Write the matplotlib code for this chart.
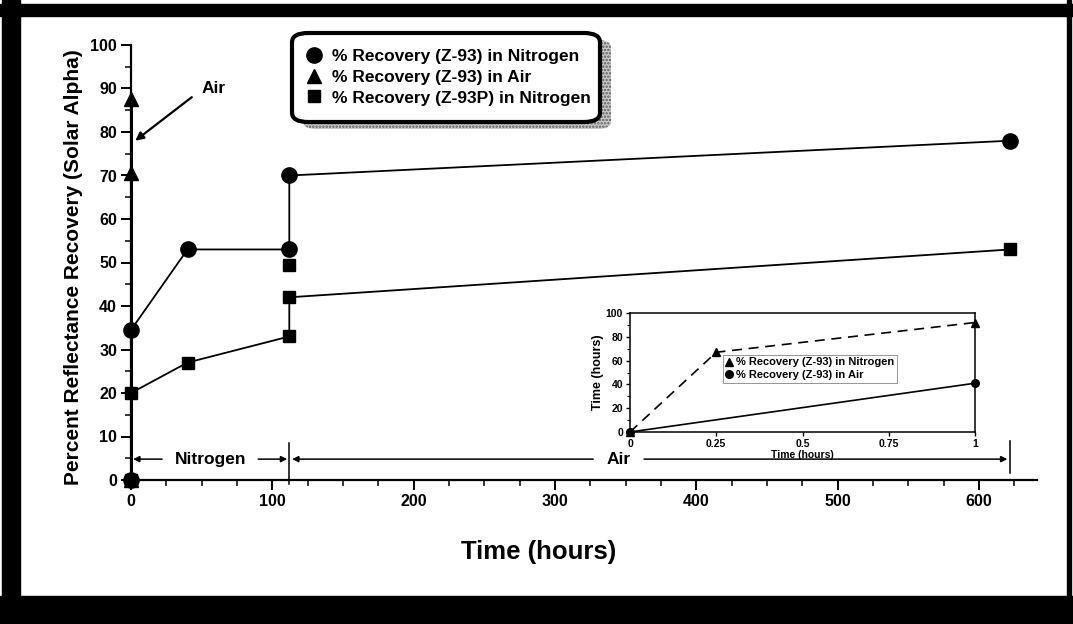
import matplotlib
matplotlib.use('Agg')
import matplotlib.pyplot as plt
from matplotlib.patches import Rectangle, FancyBboxPatch
from matplotlib.lines import Line2D
from matplotlib.ticker import MultipleLocator

plt.rcParams['font.family'] = ['Liberation Sans', 'DejaVu Sans']
plt.rcParams['font.weight'] = 'bold'
plt.rcParams['hatch.linewidth'] = 1.2

# main chart data (hours, % recovery)
n2_hours = [0, 0, 40, 112, 112, 622]
n2_recovery = [0, 34.5, 53, 53, 70, 78]
air_hours = [0, 0, 0]
air_recovery = [0, 70.5, 87.5]
p_hours = [0, 0, 40, 112, 112, 622]
p_recovery = [0, 20, 27, 33, 42, 53]
p_extra_hours = [112]
p_extra_recovery = [49.5]

legend_labels = ['% Recovery (Z-93) in Nitrogen',
                 '% Recovery (Z-93) in Air',
                 '% Recovery (Z-93P) in Nitrogen']

# inset data
inset_t_hours = [0, 0.25, 1]
inset_t_values = [0, 67, 92]
inset_c_hours = [0, 1]
inset_c_values = [0, 41]
inset_labels = ['% Recovery (Z-93) in Nitrogen', '% Recovery (Z-93) in Air']

W, H = 1073, 624
fig = plt.figure(figsize=(W / 100, H / 100), dpi=100)


def fig_rect(x0, y0, x1, y1):
    # pixel box (top-left origin) -> figure fraction (left, bottom, width, height)
    return x0 / W, 1 - y1 / H, (x1 - x0) / W, (y1 - y0) / H


# black frame around the figure
for x0, y0, x1, y1 in ((2, 0, 20, H), (0, 4, W, 16), (0, 596, W, H), (1067, 0, 1071, H)):
    l, b, w, h = fig_rect(x0, y0, x1, y1)
    fig.patches.append(Rectangle((l, b), w, h, color='black', transform=fig.transFigure))

ax = fig.add_axes(fig_rect(131, 45, 1037, 480))
ax.set_xlim(0, 641)
ax.set_ylim(0, 100)
for s in ('top', 'right'):
    ax.spines[s].set_visible(False)
for s in ('left', 'bottom'):
    ax.spines[s].set_linewidth(1.6)

ax.plot(n2_hours, n2_recovery, color='black', lw=1.3, marker='o', ms=11, clip_on=False, zorder=4)
ax.plot(air_hours, air_recovery, color='black', lw=2.2, marker='^', ms=10, clip_on=False, zorder=4)
ax.plot(p_hours, p_recovery, color='black', lw=1.3, marker='s', ms=9, clip_on=False, zorder=4)
ax.plot(p_extra_hours, p_extra_recovery, color='black', ls='none', marker='s', ms=9, clip_on=False, zorder=4)

ax.xaxis.set_major_locator(MultipleLocator(100))
ax.xaxis.set_minor_locator(MultipleLocator(25))
ax.yaxis.set_major_locator(MultipleLocator(10))
ax.yaxis.set_minor_locator(MultipleLocator(5))
ax.tick_params(which='major', length=7, width=1.4, labelsize=11.5, pad=3)
ax.tick_params(which='minor', length=4, width=1.1)
for lab in ax.get_xticklabels() + ax.get_yticklabels():
    lab.set_fontweight('bold')

ax.set_xlabel('Time (hours)', fontsize=18.5, fontweight='bold')
ax.xaxis.set_label_coords(0.45, -0.137)
ax.set_ylabel('Percent Reflectance Recovery (Solar Alpha)', fontsize=15, fontweight='bold')
ax.yaxis.set_label_coords(-0.053, 0.49)

# period markers: Nitrogen / Air
arr = dict(arrowstyle='-|>', color='black', lw=1.1, mutation_scale=9, shrinkA=0, shrinkB=0)
ax.text(56, 4.8, 'Nitrogen', ha='center', va='center', fontsize=12.5, fontweight='bold')
ax.annotate('', xy=(1.5, 4.8), xytext=(22, 4.8), arrowprops=arr)
ax.annotate('', xy=(110.5, 4.8), xytext=(90, 4.8), arrowprops=arr)
ax.plot([112, 112], [-1, 8.6], color='black', lw=1.1, clip_on=False)
ax.text(345, 4.8, 'Air', ha='center', va='center', fontsize=12.5, fontweight='bold')
ax.annotate('', xy=(114, 4.8), xytext=(327, 4.8), arrowprops=arr)
ax.annotate('', xy=(620, 4.8), xytext=(363, 4.8), arrowprops=arr)
ax.plot([622, 622], [1.5, 9], color='black', lw=1.1, clip_on=False)

ax.text(50, 90, 'Air', ha='left', va='center', fontsize=12.5, fontweight='bold')
ax.annotate('', xy=(3, 78), xytext=(43, 88),
            arrowprops=dict(arrowstyle='-|>', color='black', lw=1.6, mutation_scale=12,
                            shrinkA=0, shrinkB=0))

# legend box with stippled shadow
bx0, by0, bx1, by1 = 292, 33, 600, 122
l, b, w, h = fig_rect(bx0 + 11, by0 + 7, bx1 + 11, by1 + 7)
fig.patches.append(FancyBboxPatch((l, b), w, h, boxstyle='round,pad=0,rounding_size=0.012',
                                  transform=fig.transFigure, facecolor='0.8', edgecolor='0.35',
                                  linewidth=0, hatch='.....', zorder=5))
l, b, w, h = fig_rect(bx0, by0, bx1, by1)
fig.patches.append(FancyBboxPatch((l, b), w, h, boxstyle='round,pad=0,rounding_size=0.015',
                                  transform=fig.transFigure, facecolor='white', edgecolor='black',
                                  linewidth=3, zorder=6))
handles = [Line2D([], [], color='black', ls='none', marker=m, ms=ms)
           for m, ms in (('o', 11), ('^', 10), ('s', 9))]
leg = fig.legend(handles, legend_labels, loc='upper left', bbox_to_anchor=(298 / W, 1 - 42 / H),
                 frameon=False, fontsize=12.5, handletextpad=0.55, labelspacing=0.32,
                 handlelength=1.0, borderaxespad=0)
leg.set_zorder(7)
for t in leg.get_texts():
    t.set_fontweight('bold')

# inset
ins = fig.add_axes(fig_rect(630, 313, 975, 432))
ins.set_xlim(0, 1)
ins.set_ylim(0, 100)
ins.plot(inset_t_hours, inset_t_values, color='black', lw=1.2, ls=(0, (6, 4)), marker='^', ms=5.5,
         clip_on=False)
ins.plot(inset_c_hours, inset_c_values, color='black', lw=1.2, marker='o', ms=5.5, clip_on=False)
ins.set_xticks([0, 0.25, 0.5, 0.75, 1])
ins.set_xticklabels(['0', '0.25', '0.5', '0.75', '1'])
ins.yaxis.set_major_locator(MultipleLocator(20))
ins.yaxis.set_minor_locator(MultipleLocator(10))
ins.tick_params(which='major', length=3, width=1, labelsize=7.5, pad=2)
ins.tick_params(which='minor', length=2, width=0.8)
for lab in ins.get_xticklabels() + ins.get_yticklabels():
    lab.set_fontweight('bold')
for s in ins.spines.values():
    s.set_linewidth(1.1)
ins.set_xlabel('Time (hours)', fontsize=7.5, fontweight='bold', labelpad=1)
ins.set_ylabel('Time (hours)', fontsize=9, fontweight='bold')
ins.yaxis.set_label_coords(-0.075, 0.5)
ileg = ins.legend(handles=[Line2D([], [], color='black', ls='none', marker='^', ms=5.5),
                           Line2D([], [], color='black', ls='none', marker='o', ms=5.5)],
                  labels=inset_labels, loc='upper left', bbox_to_anchor=(0.27, 0.65),
                  fontsize=8, frameon=True, fancybox=False, borderpad=0.25, labelspacing=0.25,
                  handlelength=0.6, handletextpad=0.3, borderaxespad=0)
ileg.get_frame().set_edgecolor('0.4')
ileg.get_frame().set_linewidth(0.6)
for t in ileg.get_texts():
    t.set_fontweight('bold')

fig.savefig('out.png', dpi=100, facecolor='white')
